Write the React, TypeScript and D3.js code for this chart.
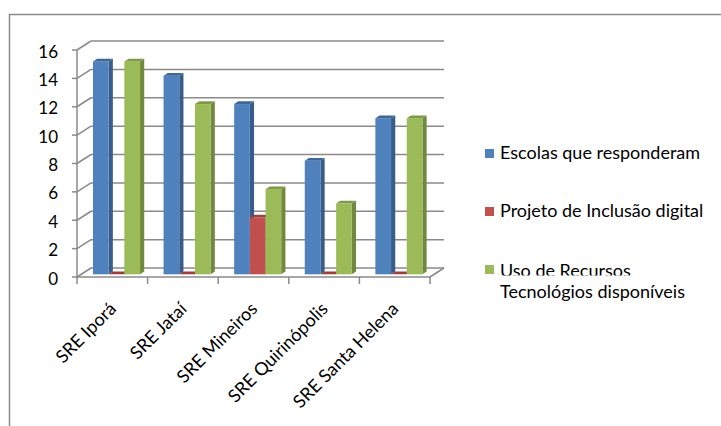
import React from "react";
import * as d3 from "d3";

const categories = ["SRE Iporá", "SRE Jataí", "SRE Mineiros", "SRE Quirinópolis", "SRE Santa Helena"];
const seriesNames = ["Escolas que responderam", "Projeto de Inclusão digital", "Uso de Recursos Tecnológios disponíveis"];
const escolas = [15, 14, 12, 8, 11];
const projeto = [0, 0, 4, 0, 0];
const uso = [15, 12, 6, 5, 11];
const yTicks = [0, 2, 4, 6, 8, 10, 12, 14, 16];

const colors = [
  { front: "#4F81BD", side: "#385D8A", top: "#3B6799" },
  { front: "#C0504D", side: "#8C3A38", top: "#9A3F3C" },
  { front: "#9BBB59", side: "#71893F", top: "#7E9A47" },
];

const FONT = "Lato, 'Open Sans', sans-serif";

export default function App() {
  const W = 721, H = 426;
  const x0 = 77, x1 = 430;
  const DX = 14, DY = 9;
  const yFront = d3.scaleLinear().domain([0, 16]).range([277, 50]);
  const xBand = d3.scaleBand<string>().domain(categories).range([x0, x1]).padding(0);
  const bw = xBand.bandwidth();
  const gap = (bw / 4.5) * 1.5;
  const inner = d3.scaleBand<number>().domain([0, 1, 2]).range([gap / 2, bw - gap / 2]).padding(0);
  const series = [escolas, projeto, uso];
  const bd0 = 0.3, bd1 = 0.3;
  const ox = DX * bd0, oy = DY * bd0;
  const tx = DX * bd1, ty = DY * bd1;

  const bars: JSX.Element[] = [];
  categories.forEach((c, ci) => {
    series.forEach((vals, si) => {
      const v = vals[ci];
      const xl = (xBand(c) as number) + (inner(si) as number) + ox;
      const w = inner.bandwidth();
      const yb = yFront(0) - oy;
      const yv = yFront(v) - oy;
      const col = colors[si];
      bars.push(
        <g key={`${ci}-${si}`}>
          <polygon
            points={`${xl + w},${yv} ${xl + w + tx},${yv - ty} ${xl + w + tx},${yb - ty} ${xl + w},${yb}`}
            fill={col.side}
          />
          <rect x={xl} y={yv} width={w} height={yb - yv} fill={col.front} />
          <polygon
            points={`${xl},${yv} ${xl + w},${yv} ${xl + w + tx},${yv - ty} ${xl + tx},${yv - ty}`}
            fill={col.top}
          />
        </g>
      );
    });
  });

  const gridColor = "#8A8A8A";
  const fs = 18;

  return (
    <svg width={W} height={H} style={{ position: "absolute", left: 0, top: 0 }}>
      <defs>
        <clipPath id="legclip">
          <rect x={0} y={0} width={W} height={275.5} />
        </clipPath>
      </defs>
      <rect x={0} y={0} width={W} height={H} fill="#fff" />
      <rect x={9.5} y={14.5} width={W} height={H} fill="none" stroke="#8C8C8C" strokeWidth={1.5} />
      {yTicks.map((t) => (
        <g key={t}>
          <line x1={x0 + DX} x2={x1 + DX} y1={yFront(t) - DY} y2={yFront(t) - DY} stroke={gridColor} strokeWidth={1.5} />
          <line x1={x0} x2={x0 + DX} y1={yFront(t)} y2={yFront(t) - DY} stroke={gridColor} strokeWidth={1.5} />
          <line x1={x0 - 5} x2={x0} y1={yFront(t)} y2={yFront(t)} stroke={gridColor} strokeWidth={1.5} />
          <text x={58} y={yFront(t) + 1} textAnchor="end" dominantBaseline="central" fontFamily={FONT} fontSize={17} fill="#000">
            {t}
          </text>
        </g>
      ))}
      <line x1={x1} x2={x1 + DX} y1={yFront(0)} y2={yFront(0) - DY} stroke={gridColor} strokeWidth={1.5} />
      {bars}
      <line x1={x0} x2={x1} y1={yFront(0)} y2={yFront(0)} stroke={gridColor} strokeWidth={1.5} />
      <line x1={x0} x2={x0} y1={yFront(16)} y2={yFront(0)} stroke={gridColor} strokeWidth={1.5} />
      {d3.range(categories.length + 1).map((i) => {
        const x = x0 + i * bw;
        return <line key={i} x1={x} x2={x} y1={yFront(0)} y2={yFront(0) + 7} stroke={gridColor} strokeWidth={1.5} />;
      })}
      {categories.map((c) => {
        const cx = (xBand(c) as number) + bw / 2 + 5;
        return (
          <text key={c} transform={`translate(${cx},310) rotate(-45)`} textAnchor="end" fontFamily={FONT} fontSize={fs} fill="#000">
            {c}
          </text>
        );
      })}
      <rect x={485} y={149} width={9} height={9} fill={colors[0].front} />
      <text x={500} y={159} fontFamily={FONT} fontSize={fs} fill="#000">{seriesNames[0]}</text>
      <rect x={485} y={207} width={9} height={9} fill={colors[1].front} />
      <text x={500} y={217} fontFamily={FONT} fontSize={fs} fill="#000">{seriesNames[1]}</text>
      <rect x={485} y={265} width={9} height={9} fill={colors[2].front} />
      <text x={500} y={277} fontFamily={FONT} fontSize={fs} fill="#000" clipPath="url(#legclip)">Uso de Recursos</text>
      <text x={500} y={298} fontFamily={FONT} fontSize={fs} fill="#000">Tecnológios disponíveis</text>
    </svg>
  );
}
